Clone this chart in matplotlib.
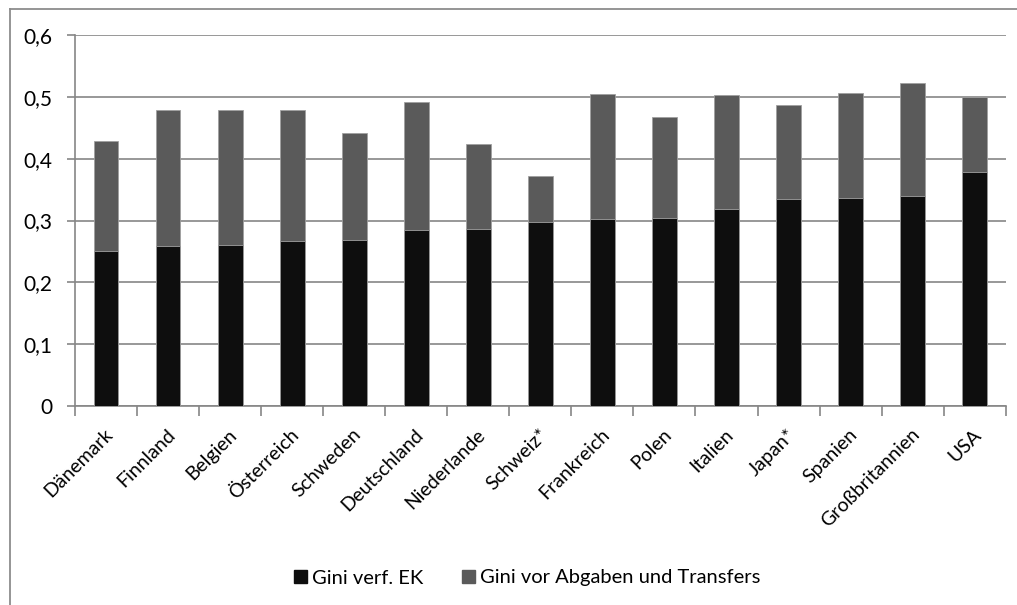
import matplotlib
matplotlib.use("Agg")
import matplotlib.pyplot as plt
from matplotlib.lines import Line2D
from matplotlib.patches import Patch

plt.rcParams['font.family'] = ['Lato', 'DejaVu Sans']

countries = ["Dänemark", "Finnland", "Belgien", "Österreich", "Schweden",
             "Deutschland", "Niederlande", "Schweiz*", "Frankreich", "Polen",
             "Italien", "Japan*", "Spanien", "Großbritannien", "USA"]
gini_after = [0.251, 0.259, 0.260, 0.267, 0.268, 0.285, 0.287, 0.298,
              0.303, 0.304, 0.319, 0.334, 0.337, 0.339, 0.379]
gini_before = [0.429, 0.479, 0.478, 0.479, 0.441, 0.492, 0.424, 0.372,
               0.504, 0.468, 0.503, 0.487, 0.506, 0.522, 0.499]
yticks = [0, 0.1, 0.2, 0.3, 0.4, 0.5, 0.6]
ytick_labels = ["0", "0,1", "0,2", "0,3", "0,4", "0,5", "0,6"]
legend_labels = ["Gini verf. EK", "Gini vor Abgaben und Transfers"]

W, H = 1017, 605
fig = plt.figure(figsize=(W / 100, H / 100), dpi=100)
fig.patch.set_facecolor("white")

# outer chart-area frame (left and top edges)
frame_col = "#8c8c8c"
fig.add_artist(Line2D([10 / W, 10 / W], [0, 1 - 9 / H], color=frame_col, lw=1.3,
                      transform=fig.transFigure))
fig.add_artist(Line2D([10 / W, 1], [1 - 9 / H, 1 - 9 / H], color=frame_col, lw=1.3,
                      transform=fig.transFigure))

ax = fig.add_axes([75 / W, (H - 406) / H, (1005.7 - 75) / W, (406 - 35) / H])
x = list(range(len(countries)))
bw = 0.40
dark = "#0e0e0e"
gray = "#5a5a5a"
ax.bar(x, gini_before, width=bw, color=gray, edgecolor="#a0a0a0", linewidth=0.6, zorder=2)
ax.bar(x, gini_after, width=bw, color=dark, edgecolor="#a0a0a0", linewidth=0.6, zorder=3)

ax.set_xlim(-0.5, len(countries) - 0.5)
ax.set_ylim(0, 0.6)
ax.set_yticks(yticks)
ax.set_yticklabels(ytick_labels)
grid_col = "#868686"
ax.yaxis.grid(True, color=grid_col, lw=1.2, zorder=0)
ax.set_axisbelow(True)
for s in ["top", "right"]:
    ax.spines[s].set_visible(False)
for s in ["left", "bottom"]:
    ax.spines[s].set_color(grid_col)
    ax.spines[s].set_linewidth(1.2)
ax.tick_params(axis="y", length=6, width=1.2, color=grid_col, labelsize=15, pad=10)

# category labels between boundary ticks
ax.set_xticks([i - 0.5 for i in range(len(countries) + 1)])
ax.set_xticklabels([])
ax.tick_params(axis="x", length=7, width=1.2, color=grid_col)
for i, name in enumerate(countries):
    ax.text(i - 0.03, -0.032, name, rotation=45, ha="right", va="top",
            rotation_mode="anchor", fontsize=14, transform=ax.transData)

handles = [Patch(facecolor=dark, edgecolor=dark), Patch(facecolor=gray, edgecolor=gray)]
fig.legend(handles, legend_labels, loc="center", bbox_to_anchor=(527 / W, 1 - 578 / H),
           ncol=2, frameon=False, fontsize=14.5, handlelength=0.65, handleheight=0.65,
           handletextpad=0.25, columnspacing=1.9)

fig.savefig("out.png", dpi=100, facecolor="white")
